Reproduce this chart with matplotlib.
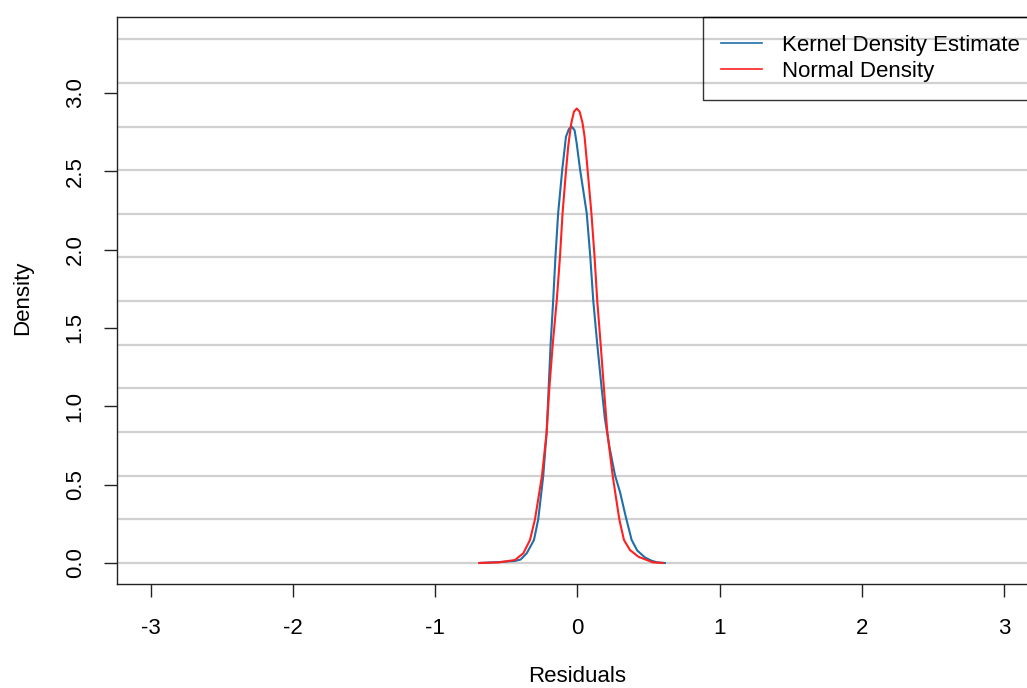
import numpy as np
import matplotlib
matplotlib.use("Agg")
import matplotlib.pyplot as plt

plt.rcParams['font.family'] = ['Liberation Sans', 'DejaVu Sans']
plt.rcParams['axes.unicode_minus'] = False

# curves
kde_x = [-0.69, -0.55, -0.44, -0.40, -0.357, -0.306, -0.276, -0.241, -0.217,
         -0.203, -0.189, -0.171, -0.155, -0.136, -0.107, -0.081, -0.06, -0.04,
         -0.02, -0.006, 0.018, 0.065, 0.09, 0.111, 0.139, 0.170, 0.193, 0.225,
         0.264, 0.30, 0.341, 0.381, 0.42, 0.475, 0.52, 0.56, 0.615]
kde_y = [0.0, 0.006, 0.013, 0.022, 0.062, 0.147, 0.279, 0.555, 0.834,
         1.115, 1.396, 1.674, 1.955, 2.232, 2.512, 2.72, 2.77, 2.784,
         2.76, 2.68, 2.512, 2.232, 1.955, 1.674, 1.396, 1.115, 0.92, 0.74,
         0.56, 0.45, 0.29, 0.147, 0.08, 0.035, 0.015, 0.004, 0.0]

norm_x = [-0.69, -0.55, -0.44, -0.381, -0.334, -0.299, -0.25, -0.217, -0.198,
          -0.174, -0.146, -0.123, -0.105, -0.08, -0.065, -0.045, -0.025, -0.005,
          0.015, 0.035, 0.05, 0.068, 0.098, 0.12, 0.139, 0.163, 0.186, 0.21,
          0.248, 0.294, 0.327, 0.369, 0.428, 0.53, 0.60]
norm_y = [0.0, 0.004, 0.019, 0.062, 0.147, 0.279, 0.555, 0.834, 1.115,
          1.396, 1.674, 1.955, 2.232, 2.512, 2.66, 2.80, 2.88, 2.90,
          2.88, 2.81, 2.72, 2.54, 2.232, 1.955, 1.674, 1.396, 1.115, 0.834,
          0.555, 0.279, 0.147, 0.083, 0.040, 0.004, 0.0]

x_ticks = [-3, -2, -1, 0, 1, 2, 3]
x_labels = ['-3', '-2', '-1', '0', '1', '2', '3']
y_ticks = [0.0, 0.5, 1.0, 1.5, 2.0, 2.5, 3.0]
y_labels = ['0.0', '0.5', '1.0', '1.5', '2.0', '2.5', '3.0']
grid_step = 0.2785
grid_n = 13

fs = 16

fig = plt.figure(figsize=(10.27, 6.88), dpi=100)
ax = fig.add_axes([0.1139, 0.1512, 0.8968, 0.8241])

for g in np.arange(grid_n) * grid_step:
    ax.axhline(g, color='#d0d0d0', lw=1.6, zorder=1)

ax.plot(kde_x, kde_y, color='#1f6fa8', lw=1.5, label='Kernel Density Estimate', zorder=3)
ax.plot(norm_x, norm_y, color='#ff2020', lw=1.5, label='Normal Density', zorder=3)

ax.set_xlim(-3.24, 3.24)
ax.set_ylim(-0.134, 3.484)

ax.set_xticks(x_ticks)
ax.set_xticklabels(x_labels)
ax.set_yticks(y_ticks)
ax.set_yticklabels(y_labels, rotation=90, va='center')
ax.tick_params(axis='both', direction='out', length=9.5, width=1, labelsize=fs, color='#222222')
ax.tick_params(axis='x', pad=15)
ax.tick_params(axis='y', pad=13)
for s in ax.spines.values():
    s.set_color('#222222')
    s.set_linewidth(1)

fig.text(577.5 / 1027, 1 - 677 / 688, 'Residuals', ha='center', va='center', fontsize=fs)
fig.text(23 / 1027, 1 - 298 / 688, 'Density', ha='center', va='center', rotation=90, fontsize=fs)

leg = ax.legend(loc='upper right', bbox_to_anchor=(1, 1), borderaxespad=0,
                fancybox=False, edgecolor='black', fontsize=fs,
                handlelength=1.85, handletextpad=0.9, borderpad=0.8, labelspacing=0.24)
leg.get_frame().set_linewidth(1)
leg.get_frame().set_facecolor('none')
for line in leg.get_lines():
    line.set_linewidth(1.2)

fig.savefig('out.png', dpi=100)
